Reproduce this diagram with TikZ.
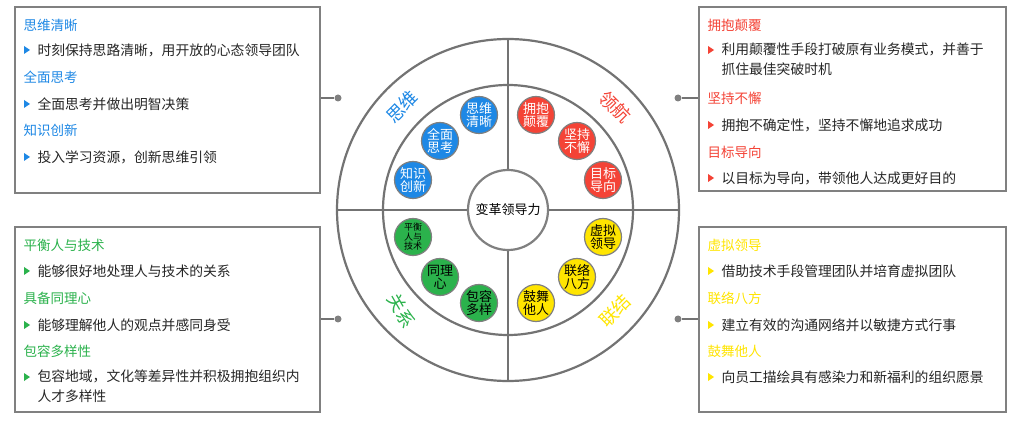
\documentclass[tikz,border=0pt]{standalone}
\usepackage{fontspec}
\setmainfont{Noto Sans CJK SC}
\begin{document}
\begin{tikzpicture}[x=1pt,y=-1pt,
  ln/.style={draw=gray!90!black,line width=2.2pt},
  box/.style={draw=gray,line width=2pt,fill=white},
  sc/.style={circle,draw=gray,line width=1.2pt,minimum size=37pt,inner sep=0pt,align=center,font=\fontsize{13}{13.5}\selectfont},
  ttl/.style={anchor=west,font=\fontsize{13.5}{15}\selectfont},
  itm/.style={anchor=west,font=\fontsize{13.8}{20.5}\selectfont,align=left,text=black!85},
  dot/.style={circle,fill=gray,inner sep=0pt,minimum size=7pt},
  ql/.style={font=\fontsize{18}{18}\selectfont,inner sep=0pt}]
\definecolor{cb}{HTML}{1E88E5}
\definecolor{cr}{HTML}{F44336}
\definecolor{cg}{HTML}{2BB24C}
\definecolor{cy}{HTML}{FFE500}
\useasboundingbox (0,0) rectangle (1014,427);
% boxes
\node[box,minimum width=305pt,minimum height=186pt,anchor=north west] (bLT) at (14,6) {};
\node[box,minimum width=305pt,minimum height=185pt,anchor=north west] (bLB) at (14,226) {};
\node[box,minimum width=307pt,minimum height=184pt,anchor=north west] (bRT) at (698,6) {};
\node[box,minimum width=307pt,minimum height=185pt,anchor=north west] (bRB) at (698,226) {};
\node[dot] (dLT) at (338,98) {};
\node[dot] (dLB) at (338,319) {};
\node[dot] (dRT) at (678,98) {};
\node[dot] (dRB) at (678,319) {};
\draw[ln] (bLT.east|-dLT) -- (dLT);
\draw[ln] (bLB.east|-dLB) -- (dLB);
\draw[ln] (bRT.west|-dRT) -- (dRT);
\draw[ln] (bRB.west|-dRB) -- (dRB);
% circles
\coordinate (c) at (508,210);
\draw[ln] (c) circle[radius=171];
\draw[ln] (c) circle[radius=125];
\draw[ln] (508,39) -- (508,381);
\draw[ln] (337,210) -- (679,210);
\node[circle,draw=gray,line width=2.2pt,fill=white,minimum size=80pt,inner sep=0pt,font=\fontsize{13}{13}\selectfont] (core) at (c) {变革领导力};
% small circles
\node[sc,fill=cb,text=white] (s1) at (479,115) {思维\\清晰};
\node[sc,fill=cb,text=white] (s2) at (440,141) {全面\\思考};
\node[sc,fill=cb,text=white] (s3) at (413,180) {知识\\创新};
\node[sc,fill=cr,text=white] (r1) at (536,115) {拥抱\\颠覆};
\node[sc,fill=cr,text=white] (r2) at (577,141) {坚持\\不懈};
\node[sc,fill=cr,text=white] (r3) at (603,180) {目标\\导向};
\node[sc,fill=cg,text=black,font=\fontsize{9}{9.5}\selectfont] (g1) at (413,237) {平衡\\人与\\技术};
\node[sc,fill=cg,text=black] (g2) at (440,277) {同理\\心};
\node[sc,fill=cg,text=black] (g3) at (479,303) {包容\\多样};
\node[sc,fill=cy,text=black] (y1) at (603,237) {虚拟\\领导};
\node[sc,fill=cy,text=black] (y2) at (577,277) {联络\\八方};
\node[sc,fill=cy,text=black] (y3) at (536,303) {鼓舞\\他人};
% quadrant labels
\node[ql,text=cb,rotate=45] (q1) at (402,107) {思维};
\node[ql,text=cr,rotate=-45] (q2) at (615,107) {领航};
\node[ql,text=cg,rotate=-60] (q3) at (401,311) {关系};
\node[ql,text=cy,rotate=45] (q4) at (615,311) {联结};
% bullets
\newcommand{\bul}[3]{\fill[#1] (#2-3,#3-4) -- (#2+3,#3) -- (#2-3,#3+4) -- cycle;}
% left top
\node[ttl,text=cb] (t1) at (20,25) {思维清晰};
\bul{cb}{27}{50}\node[itm] (i1) at (34,50) {时刻保持思路清晰，用开放的心态领导团队};
\node[ttl,text=cb] (t2) at (20,77) {全面思考};
\bul{cb}{27}{104}\node[itm] (i2) at (34,104) {全面思考并做出明智决策};
\node[ttl,text=cb] (t3) at (20,130) {知识创新};
\bul{cb}{27}{157}\node[itm] (i3) at (34,157) {投入学习资源，创新思维引领};
% left bottom
\node[ttl,text=cg] (t4) at (20,245) {平衡人与技术};
\bul{cg}{27}{271}\node[itm] (i4) at (34,271) {能够很好地处理人与技术的关系};
\node[ttl,text=cg] (t5) at (20,298) {具备同理心};
\bul{cg}{27}{325}\node[itm] (i5) at (34,325) {能够理解他人的观点并感同身受};
\node[ttl,text=cg] (t6) at (20,351) {包容多样性};
\bul{cg}{27}{377}\node[itm,anchor=north west] (i6) at (34,366) {包容地域，文化等差异性并积极拥抱组织内\\人才多样性};
% right top
\node[ttl,text=cr] (t7) at (704,25) {拥抱颠覆};
\bul{cr}{711}{50}\node[itm,anchor=north west] (i7) at (718,39) {利用颠覆性手段打破原有业务模式，并善于\\抓住最佳突破时机};
\node[ttl,text=cr] (t8) at (704,98) {坚持不懈};
\bul{cr}{711}{125}\node[itm] (i8) at (718,125) {拥抱不确定性，坚持不懈地追求成功};
\node[ttl,text=cr] (t9) at (704,152) {目标导向};
\bul{cr}{711}{178}\node[itm] (i9) at (718,178) {以目标为导向，带领他人达成更好目的};
% right bottom
\node[ttl,text=cy] (t10) at (704,245) {虚拟领导};
\bul{cy}{711}{271}\node[itm] (i10) at (718,271) {借助技术手段管理团队并培育虚拟团队};
\node[ttl,text=cy] (t11) at (704,298) {联络八方};
\bul{cy}{711}{325}\node[itm] (i11) at (718,325) {建立有效的沟通网络并以敏捷方式行事};
\node[ttl,text=cy] (t12) at (704,351) {鼓舞他人};
\bul{cy}{711}{377}\node[itm] (i12) at (718,377) {向员工描绘具有感染力和新福利的组织愿景};
\end{tikzpicture}
\end{document}
